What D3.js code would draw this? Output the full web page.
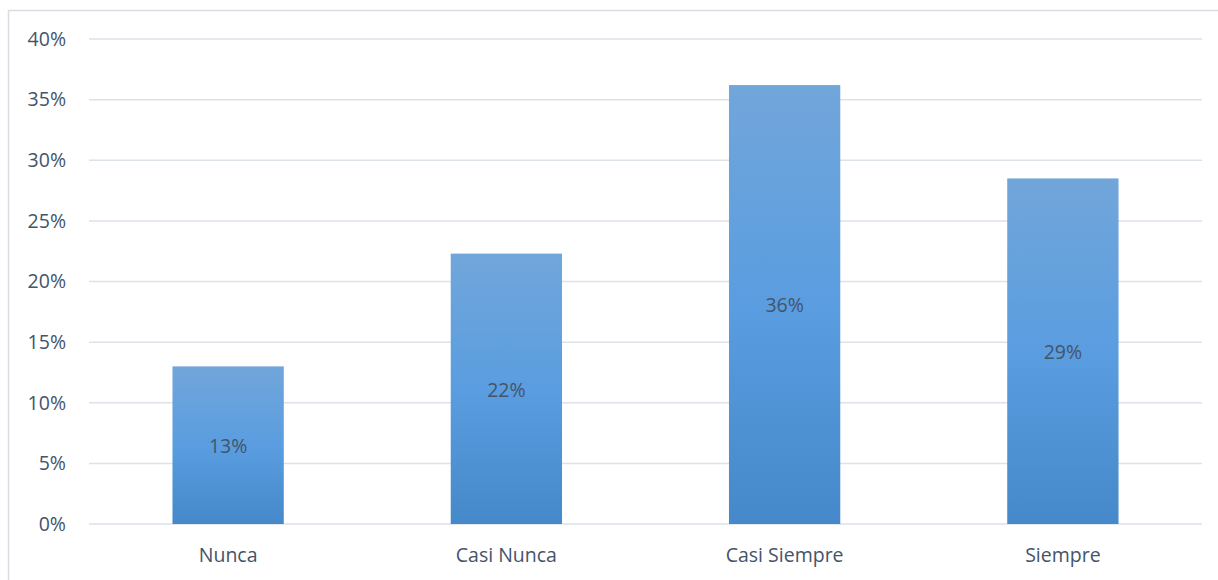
<!DOCTYPE html>
<html>
<head>
<meta charset="utf-8">
<script src="https://cdn.jsdelivr.net/npm/d3@7"></script>
<style>
  body { margin: 0; background: #fff; }
  svg { display: block; font-family: "Open Sans", "Liberation Sans", Arial, sans-serif; }
</style>
</head>
<body>
<div id="chart"></div>
<script>
const width = 1218;
const height = 580;

// chart data
const categories = ['Nunca', 'Casi Nunca', 'Casi Siempre', 'Siempre'];
const values = [0.13, 0.223, 0.362, 0.285];
const barLabels = ['13%', '22%', '36%', '29%'];
const yTicks = [0, 0.05, 0.10, 0.15, 0.20, 0.25, 0.30, 0.35, 0.40];

const margin = {left: 89, right: 16, top: 39, bottom: 56};

const svg = d3.select('#chart').append('svg')
    .attr('width', width)
    .attr('height', height);

// outer chart frame
svg.append('rect')
    .attr('x', 8.5).attr('y', 10.5)
    .attr('width', width + 20).attr('height', height + 20)
    .attr('fill', 'none')
    .attr('stroke', '#d9dde3')
    .attr('stroke-width', 1.5);

const defs = svg.append('defs');
const grad = defs.append('linearGradient')
    .attr('id', 'barGrad')
    .attr('x1', 0).attr('y1', 0).attr('x2', 0).attr('y2', 1);
grad.append('stop').attr('offset', '0%').attr('stop-color', '#71a6da');
grad.append('stop').attr('offset', '50%').attr('stop-color', '#5a9de0');
grad.append('stop').attr('offset', '100%').attr('stop-color', '#4589ca');

const x = d3.scaleBand()
    .domain(categories)
    .range([margin.left, width - margin.right])
    .padding(0);

const y = d3.scaleLinear()
    .domain([0, 0.40])
    .range([height - margin.bottom, margin.top]);

// gridlines
svg.append('g')
    .selectAll('line')
    .data(yTicks)
    .join('line')
    .attr('x1', margin.left)
    .attr('x2', width - margin.right)
    .attr('y1', d => y(d))
    .attr('y2', d => y(d))
    .attr('stroke', '#dde1e8')
    .attr('stroke-width', 1.5);

// y axis labels
svg.append('g')
    .selectAll('text')
    .data(yTicks)
    .join('text')
    .attr('x', 66)
    .attr('y', d => y(d))
    .attr('dy', '0.35em')
    .attr('text-anchor', 'end')
    .attr('font-size', 19.5)
    .attr('fill', '#44546a')
    .text(d => d3.format('.0%')(d));

const barW = x.bandwidth() * 0.4;
const data = categories.map((c, i) => ({c, v: values[i], label: barLabels[i]}));

svg.append('g')
    .selectAll('rect')
    .data(data)
    .join('rect')
    .attr('x', d => x(d.c) + (x.bandwidth() - barW) / 2)
    .attr('y', d => y(d.v))
    .attr('width', barW)
    .attr('height', d => y(0) - y(d.v))
    .attr('fill', 'url(#barGrad)');

// value labels in middle of bars
svg.append('g')
    .selectAll('text')
    .data(data)
    .join('text')
    .attr('x', d => x(d.c) + x.bandwidth() / 2)
    .attr('y', d => (y(d.v) + y(0)) / 2 + 1)
    .attr('dy', '0.35em')
    .attr('text-anchor', 'middle')
    .attr('font-size', 19.5)
    .attr('fill', '#44546a')
    .text(d => d.label);

// category labels
svg.append('g')
    .selectAll('text')
    .data(categories)
    .join('text')
    .attr('x', d => x(d) + x.bandwidth() / 2)
    .attr('y', 555)
    .attr('dy', '0.35em')
    .attr('text-anchor', 'middle')
    .attr('font-size', 19.5)
    .attr('fill', '#44546a')
    .text(d => d);
</script>
</body>
</html>
